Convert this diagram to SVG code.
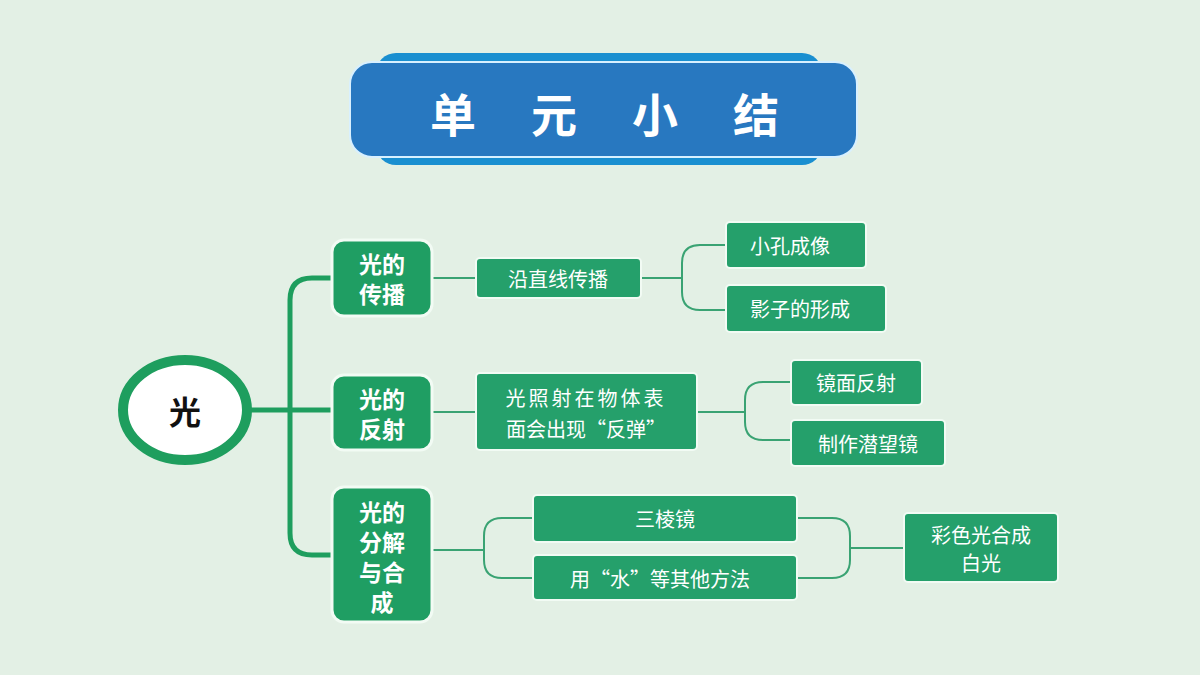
<svg xmlns="http://www.w3.org/2000/svg" width="1200" height="675" viewBox="0 0 1200 675">
<style>
text{font-family:"Noto Sans CJK SC","Noto Sans",sans-serif;text-anchor:middle;dominant-baseline:central}
.l1{fill:#1f9e63;stroke:#f2fbf4;stroke-width:3}
.l2{fill:#25a06b;stroke:#f2fbf4;stroke-width:2}
.t1{fill:#fff;font-size:23px;font-weight:700}
.t2{fill:#fff;font-size:20px}
.c{fill:none;stroke:#3aa373;stroke-width:2}
.ct{fill:none;stroke:#1e9e5e;stroke-width:5}
</style>
<rect width="1200" height="675" fill="#e3f0e5"/>
<g id="title">
<rect x="376" y="53" width="446" height="112" rx="20" fill="#1a8fd0"/>
<rect x="350" y="62" width="507" height="95" rx="22" fill="#2878c0" stroke="#d8f0ff" stroke-width="2"/>
<text x="632" y="112" fill="#fff" font-size="46" font-weight="700" letter-spacing="55">单元小结</text>
</g>
<g id="connectors">
<path class="ct" d="M247 410H333M333 278H312Q290 278 290 300V533Q290 555 312 555H333"/>
<path class="c" d="M432 278H476M641 278H682M726 245H700Q682 245 682 263V292Q682 310 700 310H726"/>
<path class="c" d="M432 412H476M697 412H745M791 382H763Q745 382 745 400V422Q745 440 763 440H791"/>
<path class="c" d="M432 550H484M533 518H502Q484 518 484 536V560Q484 578 502 578H533"/>
<path class="c" d="M797 518H832Q850 518 850 536V560Q850 578 832 578H797M850 548H904"/>
</g>
<g id="root">
<ellipse cx="185" cy="410" rx="62" ry="50" fill="#fff" stroke="#1e9e5e" stroke-width="10"/>
<text x="185" y="410" font-size="32" font-weight="700" fill="#111">光</text>
</g>
<g id="n1"><rect class="l1" x="332" y="240" width="100" height="76" rx="12"/><text class="t1" x="382" y="263">光的</text><text class="t1" x="382" y="293">传播</text></g>
<g id="n2"><rect class="l1" x="332" y="375" width="100" height="75" rx="12"/><text class="t1" x="382" y="398">光的</text><text class="t1" x="382" y="428">反射</text></g>
<g id="n3"><rect class="l1" x="332" y="487" width="100" height="135" rx="12"/><text class="t1" x="382" y="511">光的</text><text class="t1" x="382" y="541">分解</text><text class="t1" x="382" y="571">与合</text><text class="t1" x="382" y="601">成</text></g>
<g id="n4"><rect class="l2" x="476" y="258" width="165" height="40" rx="4"/><text class="t2" x="558" y="278">沿直线传播</text></g>
<g id="n5"><rect class="l2" x="726" y="222" width="140" height="46" rx="4"/><text class="t2" x="790" y="245">小孔成像</text></g>
<g id="n6"><rect class="l2" x="726" y="285" width="160" height="47" rx="4"/><text class="t2" x="800" y="308">影子的形成</text></g>
<g id="n7"><rect class="l2" x="476" y="373" width="221" height="77" rx="4"/><text class="t2" x="586" y="397" letter-spacing="3">光照射在物体表</text><text class="t2" x="586" y="428">面会出现“反弹”</text></g>
<g id="n8"><rect class="l2" x="791" y="360" width="131" height="45" rx="4"/><text class="t2" x="856" y="382">镜面反射</text></g>
<g id="n9"><rect class="l2" x="791" y="420" width="154" height="46" rx="4"/><text class="t2" x="868" y="443">制作潜望镜</text></g>
<g id="n10"><rect class="l2" x="533" y="495" width="264" height="47" rx="4"/><text class="t2" x="665" y="518">三棱镜</text></g>
<g id="n11"><rect class="l2" x="533" y="555" width="264" height="45" rx="4"/><text class="t2" x="660" y="578">用“水”等其他方法</text></g>
<g id="n12"><rect class="l2" x="904" y="513" width="154" height="69" rx="4"/><text class="t2" x="981" y="534">彩色光合成</text><text class="t2" x="981" y="562">白光</text></g>
</svg>
